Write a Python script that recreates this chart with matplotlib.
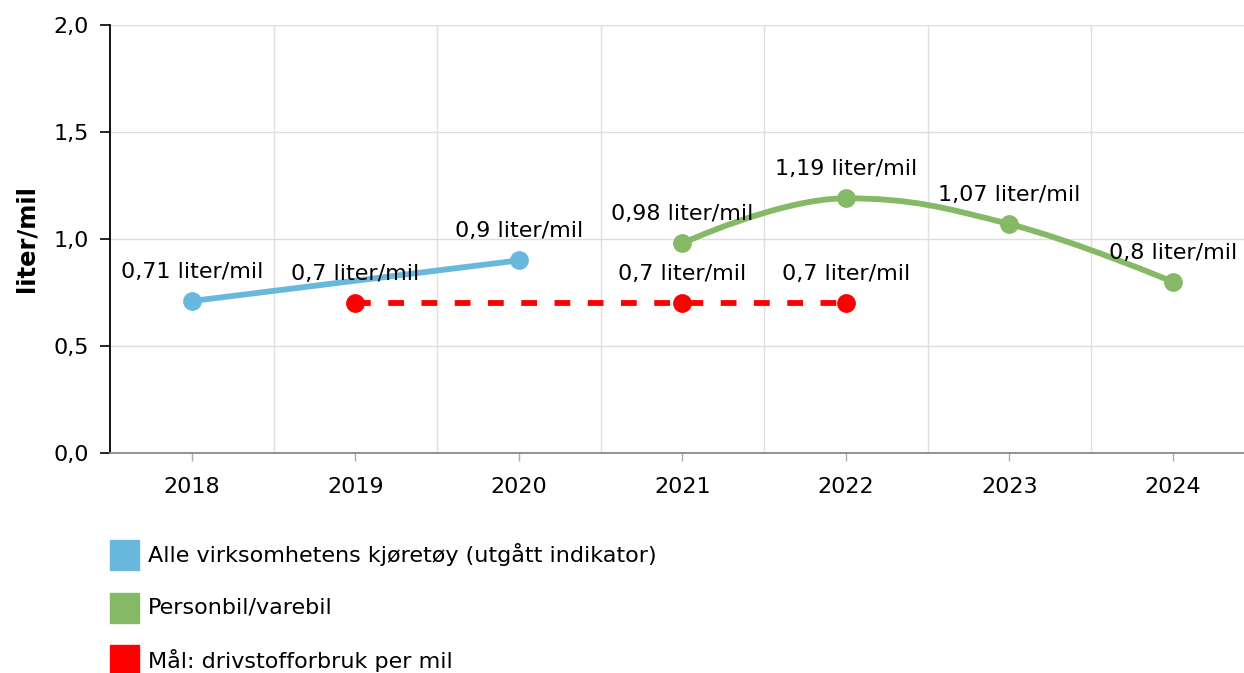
import matplotlib.pyplot as plt
from matplotlib.path import Path
from matplotlib.patches import PathPatch, Rectangle
from matplotlib.ticker import FuncFormatter

years = ['2018', '2019', '2020', '2021', '2022', '2023', '2024']

# series: (year index, value)
alle_x = [0, 2]
alle_y = [0.71, 0.9]
person_x = [3, 4, 5, 6]
person_y = [0.98, 1.19, 1.07, 0.8]
maal_x = [1, 3, 4]
maal_y = [0.7, 0.7, 0.7]

names = ['Alle virksomhetens kjøretøy (utgått indikator)',
         'Personbil/varebil',
         'Mål: drivstofforbruk per mil']
colors = ['#68b8de', '#85b965', '#ff0000']


def spline_path(xs, ys, smoothing=1.5):
    # highcharts-like spline control points
    n = len(xs)
    lc = [None] * n
    rc = [None] * n
    denom = smoothing + 1
    for i in range(n):
        if 0 < i < n - 1:
            x, y = xs[i], ys[i]
            lx = (smoothing * x + xs[i - 1]) / denom
            ly = (smoothing * y + ys[i - 1]) / denom
            rx = (smoothing * x + xs[i + 1]) / denom
            ry = (smoothing * y + ys[i + 1]) / denom
            corr = (ry - ly) * (rx - x) / (rx - lx) + y - ry
            ly += corr
            ry += corr
            if ly > ys[i - 1] and ly > y:
                ly = max(ys[i - 1], y)
                ry = 2 * y - ly
            elif ly < ys[i - 1] and ly < y:
                ly = min(ys[i - 1], y)
                ry = 2 * y - ly
            if ry > ys[i + 1] and ry > y:
                ry = max(ys[i + 1], y)
                ly = 2 * y - ry
            elif ry < ys[i + 1] and ry < y:
                ry = min(ys[i + 1], y)
                ly = 2 * y - ry
            lc[i] = (lx, ly)
            rc[i] = (rx, ry)
    verts = [(xs[0], ys[0])]
    codes = [Path.MOVETO]
    for i in range(1, n):
        c1 = rc[i - 1] if rc[i - 1] else (xs[i - 1], ys[i - 1])
        c2 = lc[i] if lc[i] else (xs[i], ys[i])
        verts += [c1, c2, (xs[i], ys[i])]
        codes += [Path.CURVE4] * 3
    return Path(verts, codes)


fig = plt.figure(figsize=(12.44, 6.73), dpi=100)
W, H = 1244, 673
ax = fig.add_axes([110 / W, 1 - 453 / H, 1134 / W, (453 - 25) / H])

step = 163.5
ax.set_xlim(-0.5, -0.5 + 1134 / step)
ax.set_ylim(0, 2.0)

# grid
for b in [0.5, 1.5, 2.5, 3.5, 4.5, 5.5]:
    ax.axvline(b, color='#e0e0e0', lw=1, zorder=0)
for v in [0.5, 1.0, 1.5, 2.0]:
    ax.axhline(v, color='#dddddd', lw=1, zorder=0)

lw = 4.2
ms = 12.5
ax.plot(alle_x, alle_y, color=colors[0], lw=lw, marker='o', ms=ms, zorder=3)
ax.add_patch(PathPatch(spline_path(person_x, person_y), fill=False,
                       edgecolor=colors[1], lw=lw, zorder=3))
ax.plot(person_x, person_y, ls='none', color=colors[1], marker='o', ms=ms, zorder=4)
ax.plot(maal_x, maal_y, color=colors[2], lw=lw, marker='o', ms=ms,
        dashes=(2.7, 3.0), zorder=3)

fs = 16
fmt = lambda v: ('%g' % v).replace('.', ',') + ' liter/mil'
for xs, ys in [(alle_x, alle_y), (person_x, person_y), (maal_x, maal_y)]:
    for x, y in zip(xs, ys):
        ax.annotate(fmt(y), (x, y), xytext=(0, 21), textcoords='offset points',
                    ha='center', va='center', fontsize=fs, color='black', zorder=5)

ax.set_xticks(range(len(years)))
ax.set_xticklabels(years, fontsize=fs)
ax.set_yticks([0, 0.5, 1.0, 1.5, 2.0])
ax.yaxis.set_major_formatter(FuncFormatter(lambda v, p: ('%.1f' % v).replace('.', ',')))
ax.tick_params(axis='y', labelsize=fs, length=7, width=1.2, color='black', pad=8)
ax.tick_params(axis='x', length=6, width=1, color='#aaaaaa', pad=11)

for s in ['top', 'right']:
    ax.spines[s].set_visible(False)
ax.spines['left'].set_color('black')
ax.spines['left'].set_linewidth(1.3)
ax.spines['bottom'].set_color('#888888')
ax.spines['bottom'].set_linewidth(1.3)

fig.text(27 / W, 1 - 239 / H, 'liter/mil', rotation=90, ha='center', va='center',
         fontsize=17.5, fontweight='bold')

# legend
for i, (name, c) in enumerate(zip(names, colors)):
    yc = 555 + i * 52.5
    fig.add_artist(Rectangle((110 / W, 1 - (yc + 15) / H), 29 / W, 30 / H,
                             transform=fig.transFigure, color=c))
    fig.text(148 / W, 1 - yc / H, name, ha='left', va='center', fontsize=fs)

fig.savefig('out.png', dpi=100)
